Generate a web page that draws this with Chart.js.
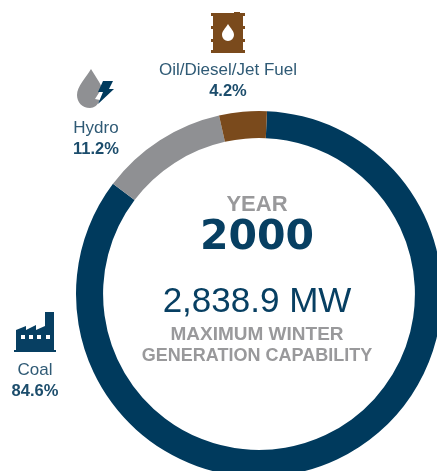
<!DOCTYPE html>
<html lang="en">
  <head>
    <meta charset="UTF-8" />
    <title>Maximum Winter Generation Capability 2000</title>
    <script src="https://cdn.jsdelivr.net/npm/chart.js@4"></script>
    <style>
      html, body { margin: 0; padding: 0; background: #fff; }
      body { position: relative; width: 437px; height: 471px; overflow: hidden; font-family: "Liberation Sans", Arial, sans-serif; }
      #chart { position: absolute; left: 59px; top: 94px; }
      .t { position: absolute; transform: translateX(-50%); white-space: nowrap; text-align: center; }
      .navy { color: #073f62; }
      .grey { color: #99999b; font-weight: 700; }
      .lab { font-size: 17px; line-height: 20px; color: #2f5a75; }
      .lab b { display: block; color: #1c4d6c; font-size: 16.5px; }
      svg { position: absolute; }
    </style>
  </head>
  <body>
    <canvas id="chart" width="400" height="400"></canvas>

    <!-- icons -->
    <svg style="left:209px;top:11px" width="38" height="44" viewBox="0 0 38 44">
      <path fill="#7a4a1c" d="M2 2h23v-1h6v1h5v3h-2v10h2v3h-2v10h2v3h-2v8h2v3H2v-3h2v-8H2v-3h2V18H2v-3h2V5H2z"/>
      <path fill="#fff" d="M19 13c3 5 6 7 6 11a6 6 0 0 1-12 0c0-4 3-6 6-11z"/>
    </svg>
    <svg style="left:76px;top:68px" width="40" height="42" viewBox="0 0 40 42">
      <path fill="#8f9093" d="M15 1c4 7 9 13 11 19l-7 11 5 1c-2 5-6 8-10 8C6 40 1 34 1 27 1 18 10 10 15 1z"/>
      <path fill="#003a5d" d="M27 13h10l-4 8h5L22 36l5-12h-5z"/>
    </svg>
    <svg style="left:13px;top:310px" width="44" height="44" viewBox="0 0 44 44">
      <path fill="#073f62" d="M3 40V20l10-4v4l10-5v5l9-4V2h9v38h2v2H1v-2z"/>
      <g fill="#fff"><rect x="8" y="25" width="4" height="4"/><rect x="16" y="25" width="4" height="4"/><rect x="24" y="25" width="4" height="4"/><rect x="33" y="25" width="4" height="4"/></g>
    </svg>

    <!-- labels -->
    <div class="t lab" style="left:228px;top:60px">Oil/Diesel/Jet Fuel<b>4.2%</b></div>
    <div class="t lab" style="left:96px;top:118px">Hydro<b>11.2%</b></div>
    <div class="t lab" style="left:35px;top:360px">Coal<b>84.6%</b></div>

    <!-- centre text -->
    <div class="t grey" style="left:257px;top:191px;font-size:22px">YEAR</div>
    <div class="t navy" style="left:257px;top:211px;font-size:41px;font-weight:700;font-family:'DejaVu Sans'">2000</div>
    <div class="t navy" style="left:257px;top:280px;font-size:35px">2,838.9 MW</div>
    <div class="t grey" style="left:257px;top:323px;font-size:19px">MAXIMUM WINTER</div>
    <div class="t grey" style="left:257px;top:345px;font-size:18px">GENERATION CAPABILITY</div>

    <script>
      const categories = ['Coal', 'Hydro', 'Oil/Diesel/Jet Fuel'];
      const shares = [84.6, 11.2, 4.2];
      const sliceColors = ['#003a5d', '#8f9093', '#7a4a1c'];

      new Chart(document.getElementById('chart'), {
        type: 'doughnut',
        data: {
          labels: categories,
          datasets: [{
            data: shares,
            backgroundColor: sliceColors,
            borderWidth: 0,
            radius: 183,
            cutout: '85.2%',
            rotation: 2.5
          }]
        },
        options: {
          responsive: false,
          animation: false,
          plugins: { legend: { display: false }, tooltip: { enabled: false } }
        }
      });
    </script>
  </body>
</html>
